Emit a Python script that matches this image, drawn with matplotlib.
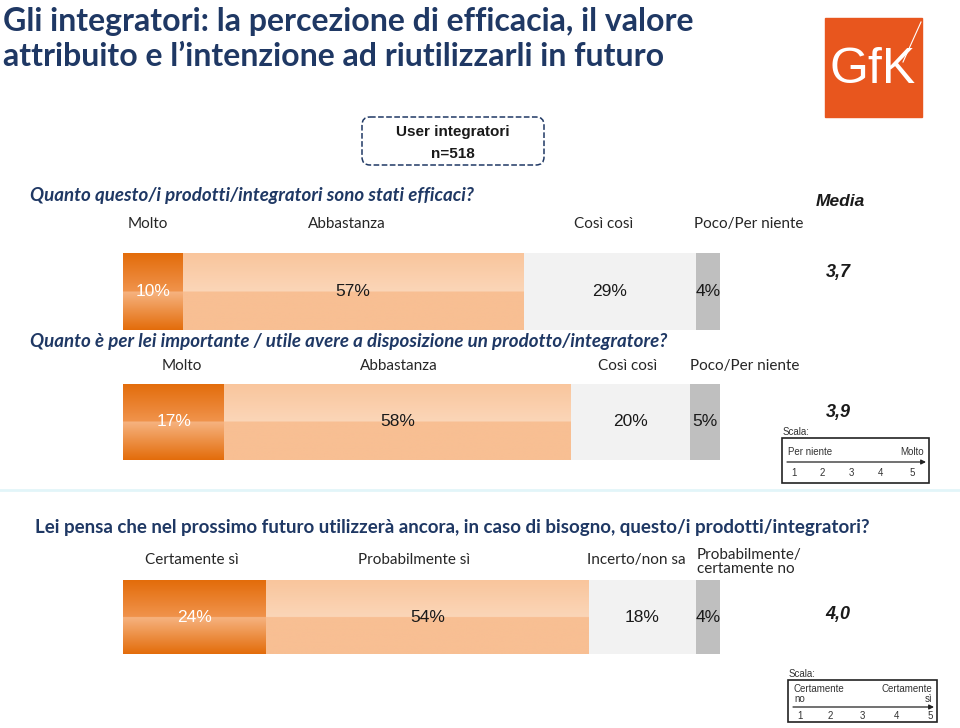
import numpy as np
import matplotlib
matplotlib.use("Agg")
import matplotlib.pyplot as plt
from matplotlib.colors import to_rgb
from matplotlib.patches import FancyBboxPatch, Rectangle

# ---- data ----
title = "Gli integratori: la percezione di efficacia, il valore\nattribuito e l\u2019intenzione ad riutilizzarli in futuro"
questions = [
    "Quanto questo/i prodotti/integratori sono stati efficaci?",
    "Quanto \u00e8 per lei importante / utile avere a disposizione un prodotto/integratore?",
    "Lei pensa che nel prossimo futuro utilizzer\u00e0 ancora, in caso di bisogno, questo/i prodotti/integratori?",
]
labels_q1 = ["Molto", "Abbastanza", "Cos\u00ec cos\u00ec", "Poco/Per niente"]
labels_q2 = ["Molto", "Abbastanza", "Cos\u00ec cos\u00ec", "Poco/Per niente"]
labels_q3 = ["Certamente s\u00ec", "Probabilmente s\u00ec", "Incerto/non sa", "Probabilmente/\ncertamente no"]
values_q1 = [10, 57, 29, 4]
values_q2 = [17, 58, 20, 5]
values_q3 = [24, 54, 18, 4]
means = ["3,7", "3,9", "4,0"]
sample_label = "User integratori\nn=518"

NAVY = "#1F3864"
SEG_COLORS = ["#E8741E", "#F8BF93", "#F2F2F2", "#BFBFBF"]
TXT_COLORS = ["white", "#1a1a1a", "#1a1a1a", "#1a1a1a"]
CAL = ["Lato", "DejaVu Sans"]
ARN = ["Liberation Sans Narrow", "Liberation Sans", "DejaVu Sans"]

W, H = 960, 728
fig = plt.figure(figsize=(9.6, 7.28), dpi=100)
deco = fig.add_axes([0, 0, 1, 1])
deco.set_xlim(0, W)
deco.set_ylim(H, 0)
deco.axis("off")


def grad(c_top, c_mid1, c_mid2, c_bot, n=200):
    half = n // 2
    a = np.linspace(to_rgb(c_top), to_rgb(c_mid1), half)
    b = np.linspace(to_rgb(c_mid2), to_rgb(c_bot), n - half)
    return np.vstack([a, b])[:, None, :]


grads = [
    grad("#E36C0A", "#F0934C", "#F6B380", "#E36C0A"),
    grad("#F9C59C", "#FBD6B8", "#F8BF93", "#F8BF93"),
]


def bar(values, top, bottom):
    ax = fig.add_axes([123 / W, 1 - bottom / H, 597 / W, (bottom - top) / H])
    lefts = np.concatenate([[0], np.cumsum(values)[:-1]])
    ax.barh(0.5, values, left=lefts, height=1, color=SEG_COLORS, linewidth=0)
    for i, (l, v) in enumerate(zip(lefts, values)):
        if i < len(grads):
            ax.imshow(grads[i], extent=(l, l + v, 0, 1), aspect="auto", zorder=2)
        ax.text(l + v / 2, 0.5, f"{v}%", ha="center", va="center", fontsize=12.5,
                color=TXT_COLORS[i], family=ARN, zorder=3)
    ax.set_xlim(0, 100)
    ax.set_ylim(0, 1)
    ax.axis("off")


bar(values_q1, 253, 330)
bar(values_q2, 384, 460)
bar(values_q3, 580, 654)

# title
deco.text(3, 39, title, ha="left", va="center", fontsize=23, fontweight="bold",
          color=NAVY, family=CAL, linespacing=1.22)

# GfK logo
deco.add_patch(Rectangle((825, 18), 97, 99, color="#E8561E", zorder=1))
deco.text(873, 70, "GfK", ha="center", va="center", fontsize=36, color="white",
          family=ARN, zorder=2)
deco.plot([921, 903], [22, 62], color="white", lw=0.8, zorder=2)

# sample box
deco.add_patch(FancyBboxPatch((362, 117), 182, 48, boxstyle="round,pad=0,rounding_size=8",
                              fill=False, ec=NAVY, ls="--", lw=1.1))
deco.text(453, 143, sample_label, ha="center", va="center", fontsize=11, fontweight="bold",
          color="#1a1a1a", family=ARN, linespacing=1.7)

# questions
deco.text(30, 195, questions[0], ha="left", va="center", fontsize=13.5, fontweight="bold",
          style="italic", color=NAVY, family=CAL)
deco.text(30, 342, questions[1], ha="left", va="center", fontsize=13.5, fontweight="bold",
          style="italic", color=NAVY, family=CAL)
deco.text(35, 527, questions[2], ha="left", va="center", fontsize=13.5, fontweight="bold",
          color=NAVY, family=CAL)

# category labels
for lab, x in zip(labels_q1, [148, 347, 604, 749]):
    deco.text(x, 224, lab, ha="center", va="center", fontsize=11, color="#262626", family=CAL)
for lab, x in zip(labels_q2, [182, 399, 628, 745]):
    deco.text(x, 366, lab, ha="center", va="center", fontsize=11, color="#262626", family=CAL)
for lab, x in zip(labels_q3[:3], [192, 414, 636]):
    deco.text(x, 560, lab, ha="center", va="center", fontsize=11, color="#262626", family=CAL)
deco.text(697, 562, labels_q3[3], ha="left", va="center", fontsize=11, color="#262626",
          family=CAL, linespacing=0.95)

# means
deco.text(840, 202, "Media", ha="center", va="center", fontsize=12.5, fontweight="bold",
          style="italic", color="#1a1a1a", family=ARN)
for m, y in zip(means, [272, 412, 615]):
    deco.text(838, y, m, ha="center", va="center", fontsize=13, fontweight="bold",
              style="italic", color="#1a1a1a", family=ARN)

# faint separator
deco.plot([0, W], [490, 490], color="#E2F5F9", lw=2)


def scale_box(x0, x1, y0, y1, left_lab, right_lab, ylab, yarrow, ynum, nums_x):
    deco.text(x0 + 1, y0 - 6, "Scala:", ha="left", va="center", fontsize=7,
              color="#333333", family=ARN)
    deco.add_patch(Rectangle((x0, y0), x1 - x0, y1 - y0, fill=False, ec="#222222", lw=1.2))
    deco.text(x0 + 6, ylab, left_lab, ha="left", va="center", fontsize=7,
              color="#333333", family=ARN, linespacing=0.9)
    deco.text(x1 - 5, ylab, right_lab, ha="right", va="center", fontsize=7,
              color="#333333", family=ARN, linespacing=0.9, multialignment="right")
    deco.annotate("", xy=(x1 - 3, yarrow), xytext=(x0 + 5, yarrow),
                  arrowprops=dict(arrowstyle="-|>", color="#222222", lw=0.9,
                                  mutation_scale=7, shrinkA=0, shrinkB=0))
    for i, x in enumerate(nums_x):
        deco.text(x, ynum, str(i + 1), ha="center", va="center", fontsize=7,
                  color="#333333", family=ARN)


scale_box(782, 929, 438, 483, "Per niente", "Molto", 452, 462, 473,
          [794, 822, 851, 881, 912])
scale_box(788, 937, 680, 722, "Certamente\nno", "Certamente\ns\u00ec", 694, 707, 716,
          [800, 830, 862, 896, 930])

fig.savefig("out.png", dpi=100)
